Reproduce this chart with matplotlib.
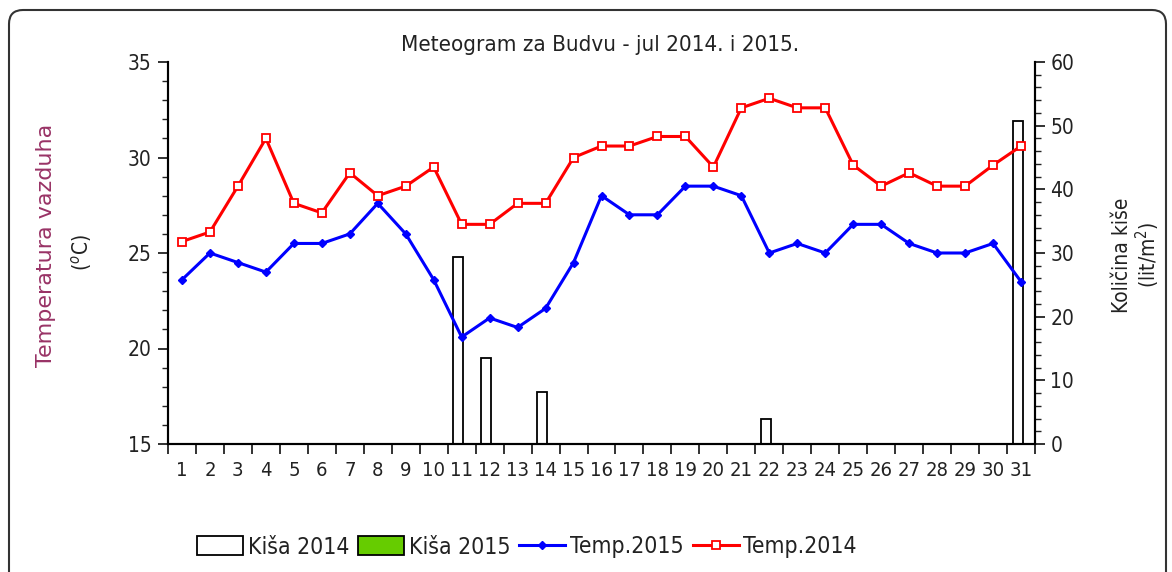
import numpy as np
import matplotlib
matplotlib.use("Agg")
import matplotlib.pyplot as plt
from matplotlib.patches import FancyBboxPatch, Patch
from matplotlib.lines import Line2D
from matplotlib.ticker import MultipleLocator
from matplotlib.transforms import IdentityTransform

days = list(range(1, 32))
day_labels = [str(d) for d in days]

temp_2014 = [25.6, 26.1, 28.5, 31.0, 27.6, 27.1, 29.2, 28.0, 28.5, 29.5,
             26.5, 26.5, 27.6, 27.6, 30.0, 30.6, 30.6, 31.1, 31.1, 29.5,
             32.6, 33.1, 32.6, 32.6, 29.6, 28.5, 29.2, 28.5, 28.5, 29.6, 30.6]
temp_2015 = [23.6, 25.0, 24.5, 24.0, 25.5, 25.5, 26.0, 27.6, 26.0, 23.6,
             20.6, 21.6, 21.1, 22.1, 24.5, 28.0, 27.0, 27.0, 28.5, 28.5,
             28.0, 25.0, 25.5, 25.0, 26.5, 26.5, 25.5, 25.0, 25.0, 25.5, 23.5]
rain_2014 = [0, 0, 0, 0, 0, 0, 0, 0, 0, 0,
             29.3, 13.5, 0, 8.1, 0, 0, 0, 0, 0, 0,
             0, 3.9, 0, 0, 0, 0, 0, 0, 0, 0, 50.8]
rain_2015 = [0] * 31

plt.rcParams.update({
    "font.family": ["DejaVu Sans"],
    "font.stretch": "condensed",
    "font.size": 14,
    "text.color": "#222222",
    "xtick.color": "#222222",
    "ytick.color": "#222222",
})

fig = plt.figure(figsize=(11.72, 5.72), dpi=100)
ax = fig.add_axes([168 / 1172, 1 - 444 / 572, (1035 - 168) / 1172, (444 - 62) / 572])
ax2 = ax.twinx()

x = np.array(days)

# rain bars on the secondary axis
ax2.bar(x - 0.12, rain_2014, width=0.36, facecolor="white", edgecolor="black", linewidth=1.3)
ax2.bar(x + 0.24, rain_2015, width=0.36, facecolor="#66cc00", edgecolor="black", linewidth=1.3)
ax2.set_ylim(0, 60)
ax2.yaxis.set_major_locator(MultipleLocator(10))
ax2.yaxis.set_minor_locator(MultipleLocator(2))
ax2.tick_params(axis="y", which="major", direction="out", length=7, width=1.3, labelsize=15, pad=4)
ax2.tick_params(axis="y", which="minor", direction="out", length=4, width=1.0)
fig.text(1122 / 1172, 1 - 255 / 572, "Količina kiše", rotation=90, fontsize=15,
         ha="center", va="center")
fig.text(1148 / 1172, 1 - 255 / 572, "(lit/m$^2$)", rotation=90, fontsize=15,
         ha="center", va="center")

# temperature lines on the primary axis, drawn over the bars
ax.set_zorder(ax2.get_zorder() + 1)
ax.patch.set_visible(False)
ax.plot(x, temp_2015, color="#0000ff", lw=2.2, marker="D", ms=4.5, label="Temp.2015")
ax.plot(x, temp_2014, color="#ff0000", lw=2.2, marker="s", ms=6, mfc="white", mec="#ff0000",
        mew=1.3, label="Temp.2014")
ax.set_ylim(15, 35)
ax.set_xlim(0.5, 31.5)
ax.yaxis.set_major_locator(MultipleLocator(5))
ax.yaxis.set_minor_locator(MultipleLocator(1))
ax.tick_params(axis="y", which="major", direction="out", length=7, width=1.3, labelsize=15, pad=5)
ax.tick_params(axis="y", which="minor", direction="out", length=4, width=1.0)

ax.set_xticks(np.arange(0.5, 32.5, 1))
ax.set_xticklabels([])
ax.set_xticks(x, day_labels, minor=True)
ax.tick_params(axis="x", which="major", direction="out", length=7, width=1.3)
ax.tick_params(axis="x", which="minor", length=0, labelsize=14.5, pad=12)

fig.text(46 / 1172, 1 - 245 / 572, "Temperatura vazduha", rotation=90, fontsize=16,
         fontstretch="normal", color="#993366", ha="center", va="center")
fig.text(81 / 1172, 1 - 253 / 572, "($^o$C)", rotation=90, fontsize=15,
         ha="center", va="center")

for a in (ax, ax2):
    a.spines["top"].set_visible(False)
    for s in ("left", "right", "bottom"):
        a.spines[s].set_linewidth(1.5)

fig.text(600 / 1172, 1 - 45 / 572, "Meteogram za Budvu - jul 2014. i 2015.", ha="center",
         va="center", fontsize=16)

handles = [
    Patch(facecolor="white", edgecolor="black", linewidth=1.3, label="Kiša 2014"),
    Patch(facecolor="#66cc00", edgecolor="black", linewidth=1.3, label="Kiša 2015"),
    Line2D([], [], color="#0000ff", lw=2.2, marker="D", ms=4.5, label="Temp.2015"),
    Line2D([], [], color="#ff0000", lw=2.2, marker="s", ms=6, mfc="white", mec="#ff0000",
           mew=1.3, label="Temp.2014"),
]
fig.legend(handles=handles, loc="center", bbox_to_anchor=(527 / 1172, 1 - 547 / 572), ncol=4,
           frameon=False, fontsize=16.5, handlelength=2.0, handletextpad=0.2, columnspacing=0.4,
           handleheight=0.9)

# rounded outer frame (pixel coordinates)
frame = FancyBboxPatch((9, -20), 1157, 572 - 10 + 20, boxstyle="round,pad=0,rounding_size=14",
                       transform=IdentityTransform(), facecolor="none", edgecolor="#333333",
                       linewidth=1.5)
fig.patches.append(frame)

fig.savefig("out.png", dpi=100)
